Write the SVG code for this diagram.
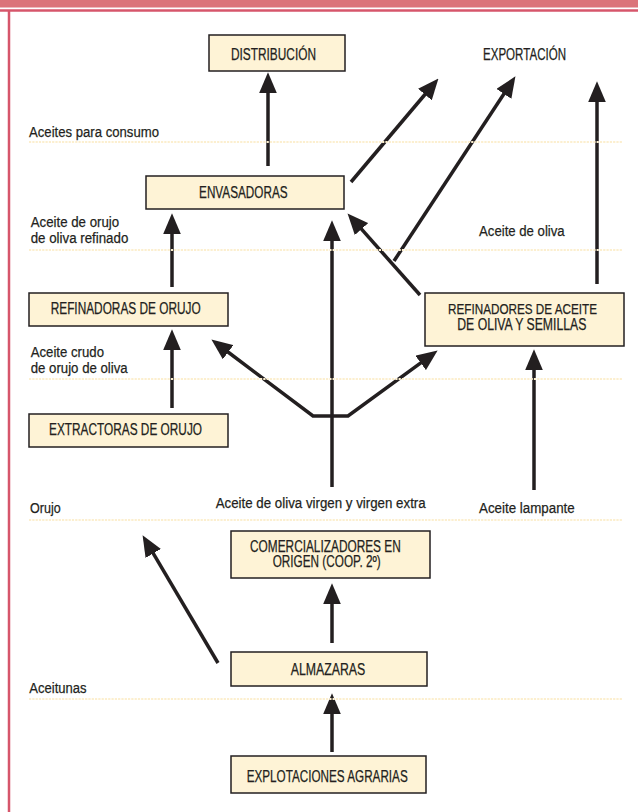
<svg xmlns="http://www.w3.org/2000/svg" width="638" height="812" viewBox="0 0 638 812">
<defs>
<marker id="ah" markerUnits="userSpaceOnUse" markerWidth="21" markerHeight="18" viewBox="0 0 20 17" refX="5" refY="8.5" orient="auto-start-reverse">
<path d="M0,0 L20,8.5 L0,17 z" fill="#231f20"/>
</marker>
<style>
.box{fill:#fef3d6;stroke:#231f20;stroke-width:1.5}
.t{font-family:"Liberation Sans",Arial,sans-serif;font-size:15.5px;fill:#231f20;stroke:#231f20;stroke-width:0.25}
.u{font-size:16px;text-anchor:middle}
.c{fill:none;stroke:#231f20;stroke-width:3.5;marker-end:url(#ah)}
.dot{stroke:#fcefcf;stroke-width:2.2;stroke-dasharray:2.2 1.1}
</style>
</defs>
<rect width="638" height="812" fill="#ffffff"/>
<g id="frame">
<rect x="0" y="0" width="638" height="7.5" fill="#db747a"/>
<line x1="0" y1="10.5" x2="638" y2="10.5" stroke="#d6566b" stroke-width="2.5"/>
<line x1="9" y1="10" x2="9" y2="812" stroke="#d6566b" stroke-width="2.5"/>
</g>
<g id="connectors">
<path class="c" d="M268,166 L268,88"/>
<path class="c" d="M351,182 L428.3,90.5"/>
<path class="c" d="M394,261 L506.8,89.5"/>
<path class="c" d="M597,284 L597,97"/>
<path class="c" d="M420,295 L358,225.2"/>
<path class="c" d="M332,487 L332,236"/>
<path class="c" style="marker-start:url(#ah)" d="M224,349 L313,416 L348,416 L424.9,359.8"/>
<path class="c" d="M172,408 L172,345"/>
<path class="c" d="M172,287 L172,229"/>
<path class="c" d="M218,663 L150.6,548.9"/>
<path class="c" d="M332,643 L332,599"/>
<path class="c" d="M332,752 L332,709"/>
<path class="c" d="M534,490 L534,365"/>
</g>
<g id="levels">
<line class="dot" x1="29" y1="142" x2="622" y2="142"/>
<line class="dot" x1="29" y1="250" x2="622" y2="250"/>
<line class="dot" x1="29" y1="379" x2="622" y2="379"/>
<line class="dot" x1="29" y1="520" x2="622" y2="520"/>
<line class="dot" x1="29" y1="699" x2="622" y2="699"/>
</g>
<g id="level-labels">
<text class="t" x="29" y="137" textLength="130" lengthAdjust="spacingAndGlyphs">Aceites para consumo</text>
<text class="t" x="30.7" y="227.3" textLength="88.5" lengthAdjust="spacingAndGlyphs">Aceite de orujo</text>
<text class="t" x="30.7" y="243.3" textLength="97.6" lengthAdjust="spacingAndGlyphs">de oliva refinado</text>
<text class="t" x="30.7" y="357.3" textLength="73.3" lengthAdjust="spacingAndGlyphs">Aceite crudo</text>
<text class="t" x="30.7" y="373.3" textLength="97" lengthAdjust="spacingAndGlyphs">de orujo de oliva</text>
<text class="t" x="479" y="236" textLength="85.7" lengthAdjust="spacingAndGlyphs">Aceite de oliva</text>
<text class="t" x="30" y="513.3" textLength="30.7" lengthAdjust="spacingAndGlyphs">Orujo</text>
<text class="t" x="215.7" y="508.3" textLength="210" lengthAdjust="spacingAndGlyphs">Aceite de oliva virgen y virgen extra</text>
<text class="t" x="479" y="513.3" textLength="95.7" lengthAdjust="spacingAndGlyphs">Aceite lampante</text>
<text class="t" x="29.3" y="693.3" textLength="57.3" lengthAdjust="spacingAndGlyphs">Aceitunas</text>
</g>
<g id="distribucion">
<rect class="box" x="209" y="35" width="136" height="36"/>
<text class="t u" x="273.5" y="60" textLength="85" lengthAdjust="spacingAndGlyphs">DISTRIBUCIÓN</text>
</g>
<g id="exportacion">
<text class="t u" x="524.5" y="59.5" textLength="83" lengthAdjust="spacingAndGlyphs">EXPORTACIÓN</text>
</g>
<g id="envasadoras">
<rect class="box" x="146" y="176" width="198" height="33"/>
<text class="t u" x="243.3" y="197.7" textLength="88.5" lengthAdjust="spacingAndGlyphs">ENVASADORAS</text>
</g>
<g id="refinadoras-orujo">
<rect class="box" x="29" y="293" width="199" height="33"/>
<text class="t u" x="125.7" y="314" textLength="150" lengthAdjust="spacingAndGlyphs">REFINADORAS DE ORUJO</text>
</g>
<g id="extractoras-orujo">
<rect class="box" x="29" y="414" width="199" height="33"/>
<text class="t u" x="125.5" y="435" textLength="153" lengthAdjust="spacingAndGlyphs">EXTRACTORAS DE ORUJO</text>
</g>
<g id="refinadores-aceite">
<rect class="box" x="425" y="293" width="199" height="53"/>
<text class="t u" style="font-size:15px" x="522.5" y="314.3" textLength="149" lengthAdjust="spacingAndGlyphs">REFINADORES DE ACEITE</text>
<text class="t u" x="521.8" y="330" textLength="129" lengthAdjust="spacingAndGlyphs">DE OLIVA Y SEMILLAS</text>
</g>
<g id="comercializadores">
<rect class="box" x="231" y="531" width="199" height="47"/>
<text class="t u" x="325.4" y="551.7" textLength="150.7" lengthAdjust="spacingAndGlyphs">COMERCIALIZADORES EN</text>
<text class="t u" x="326.7" y="567.3" textLength="108" lengthAdjust="spacingAndGlyphs">ORIGEN (COOP. 2º)</text>
</g>
<g id="almazaras">
<rect class="box" x="231" y="652" width="196" height="34"/>
<text class="t u" x="328" y="675" textLength="74.6" lengthAdjust="spacingAndGlyphs">ALMAZARAS</text>
</g>
<g id="explotaciones">
<rect class="box" x="231" y="756" width="195" height="37"/>
<text class="t u" x="327.2" y="781.7" textLength="161" lengthAdjust="spacingAndGlyphs">EXPLOTACIONES AGRARIAS</text>
</g>
</svg>
